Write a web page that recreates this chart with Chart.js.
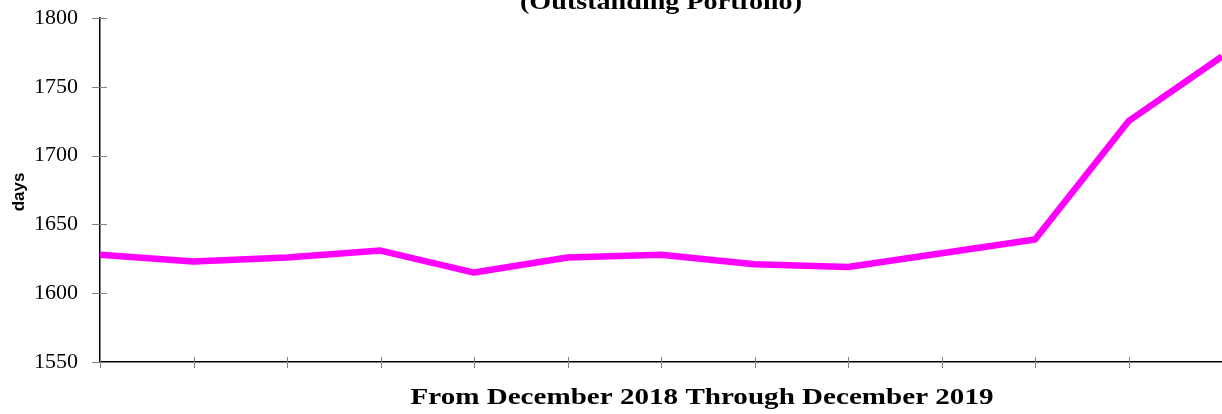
<!DOCTYPE html>
<html>
<head>
<meta charset="utf-8">
<script src="https://cdn.jsdelivr.net/npm/chart.js@4.4.1/dist/chart.umd.min.js"></script>
<style>
  html, body { margin: 0; padding: 0; background: #fff; }
  #wrap { width: 1222px; height: 414px; }
</style>
</head>
<body>
<div id="wrap"><canvas id="ageChart" width="1222" height="414"></canvas></div>
<script>
// Monthly points, Dec 2018 .. Dec 2019 (axis labels are not shown in the original)
const months = ['Dec 2018', 'Jan 2019', 'Feb 2019', 'Mar 2019', 'Apr 2019', 'May 2019', 'Jun 2019',
                'Jul 2019', 'Aug 2019', 'Sep 2019', 'Oct 2019', 'Nov 2019', 'Dec 2019'];
const avgDays = [1628, 1623, 1626, 1631, 1615, 1626, 1628, 1621, 1619, 1629, 1639, 1725, 1772];
const yMin = 1550;
const yMax = 1800;
const yStep = 50;

const chartTitle = '(Outstanding Portfolio)';
const xTitle = 'From December 2018 Through December 2019';
const yTitle = 'days';

// draw text stretched to a given width (the original's headings are wide)
function wideText(c, text, cx, base, width) {
    const w = c.measureText(text).width;
    c.save();
    c.translate(cx, base);
    c.scale(width / w, 1);
    c.fillText(text, 0, 0);
    c.restore();
}

// crossing tick marks + the texts placed where the original has them
const decorations = {
    id: 'decorations',
    afterDraw(chart) {
        const c = chart.ctx;
        const x = chart.scales.x;
        const y = chart.scales.y;
        c.save();
        c.strokeStyle = '#808080';
        c.lineWidth = 1;
        c.beginPath();
        x.ticks.forEach((t, i) => {
            const px = Math.round(x.getPixelForTick(i)) + 0.5;
            c.moveTo(px, y.bottom - 5);
            c.lineTo(px, y.bottom + 6);
        });
        y.ticks.forEach((t, i) => {
            const py = Math.round(y.getPixelForTick(i)) + 0.5;
            c.moveTo(x.left - 8, py);
            c.lineTo(x.left + 7, py);
        });
        c.stroke();

        c.fillStyle = '#000';
        c.textAlign = 'center';
        c.textBaseline = 'alphabetic';
        c.font = 'bold 24px "Liberation Serif", "Times New Roman", serif';
        wideText(c, chartTitle, 661, 9, 282);
        wideText(c, xTitle, 702, 404, 583);

        c.translate(19, 192);
        c.rotate(-Math.PI / 2);
        c.font = 'bold 17px "Liberation Sans", Arial, sans-serif';
        c.textBaseline = 'middle';
        c.fillText(yTitle, 0, 0);
        c.restore();
    }
};

new Chart(document.getElementById('ageChart'), {
    type: 'line',
    data: {
        labels: months,
        datasets: [{
            data: avgDays,
            borderColor: '#ff00ff',
            borderWidth: 6.5,
            tension: 0,
            pointRadius: 0,
            borderJoinStyle: 'round',
            fill: false
        }]
    },
    options: {
        responsive: false,
        animation: false,
        layout: { padding: { top: 18, right: 0, left: 0, bottom: 0 } },
        plugins: {
            legend: { display: false },
            tooltip: { enabled: false },
            title: { display: false }
        },
        scales: {
            x: {
                offset: false,
                grid: { display: false },
                border: { color: '#000', width: 1.5 },
                ticks: { display: false },
                afterFit(scale) { scale.height = 52; }
            },
            y: {
                min: yMin,
                max: yMax,
                // tick marks themselves are drawn by the plugin; tickLength only sets the label gap
                grid: { display: false, drawTicks: true, tickLength: 22 },
                border: { color: '#000', width: 1.5 },
                ticks: {
                    stepSize: yStep,
                    padding: 0,
                    color: '#000',
                    font: { family: '"Liberation Serif", "Times New Roman", serif', size: 22 },
                    callback: (v) => String(v)
                },
                afterFit(scale) { scale.width = 100; }
            }
        }
    },
    plugins: [decorations]
});
</script>
</body>
</html>
